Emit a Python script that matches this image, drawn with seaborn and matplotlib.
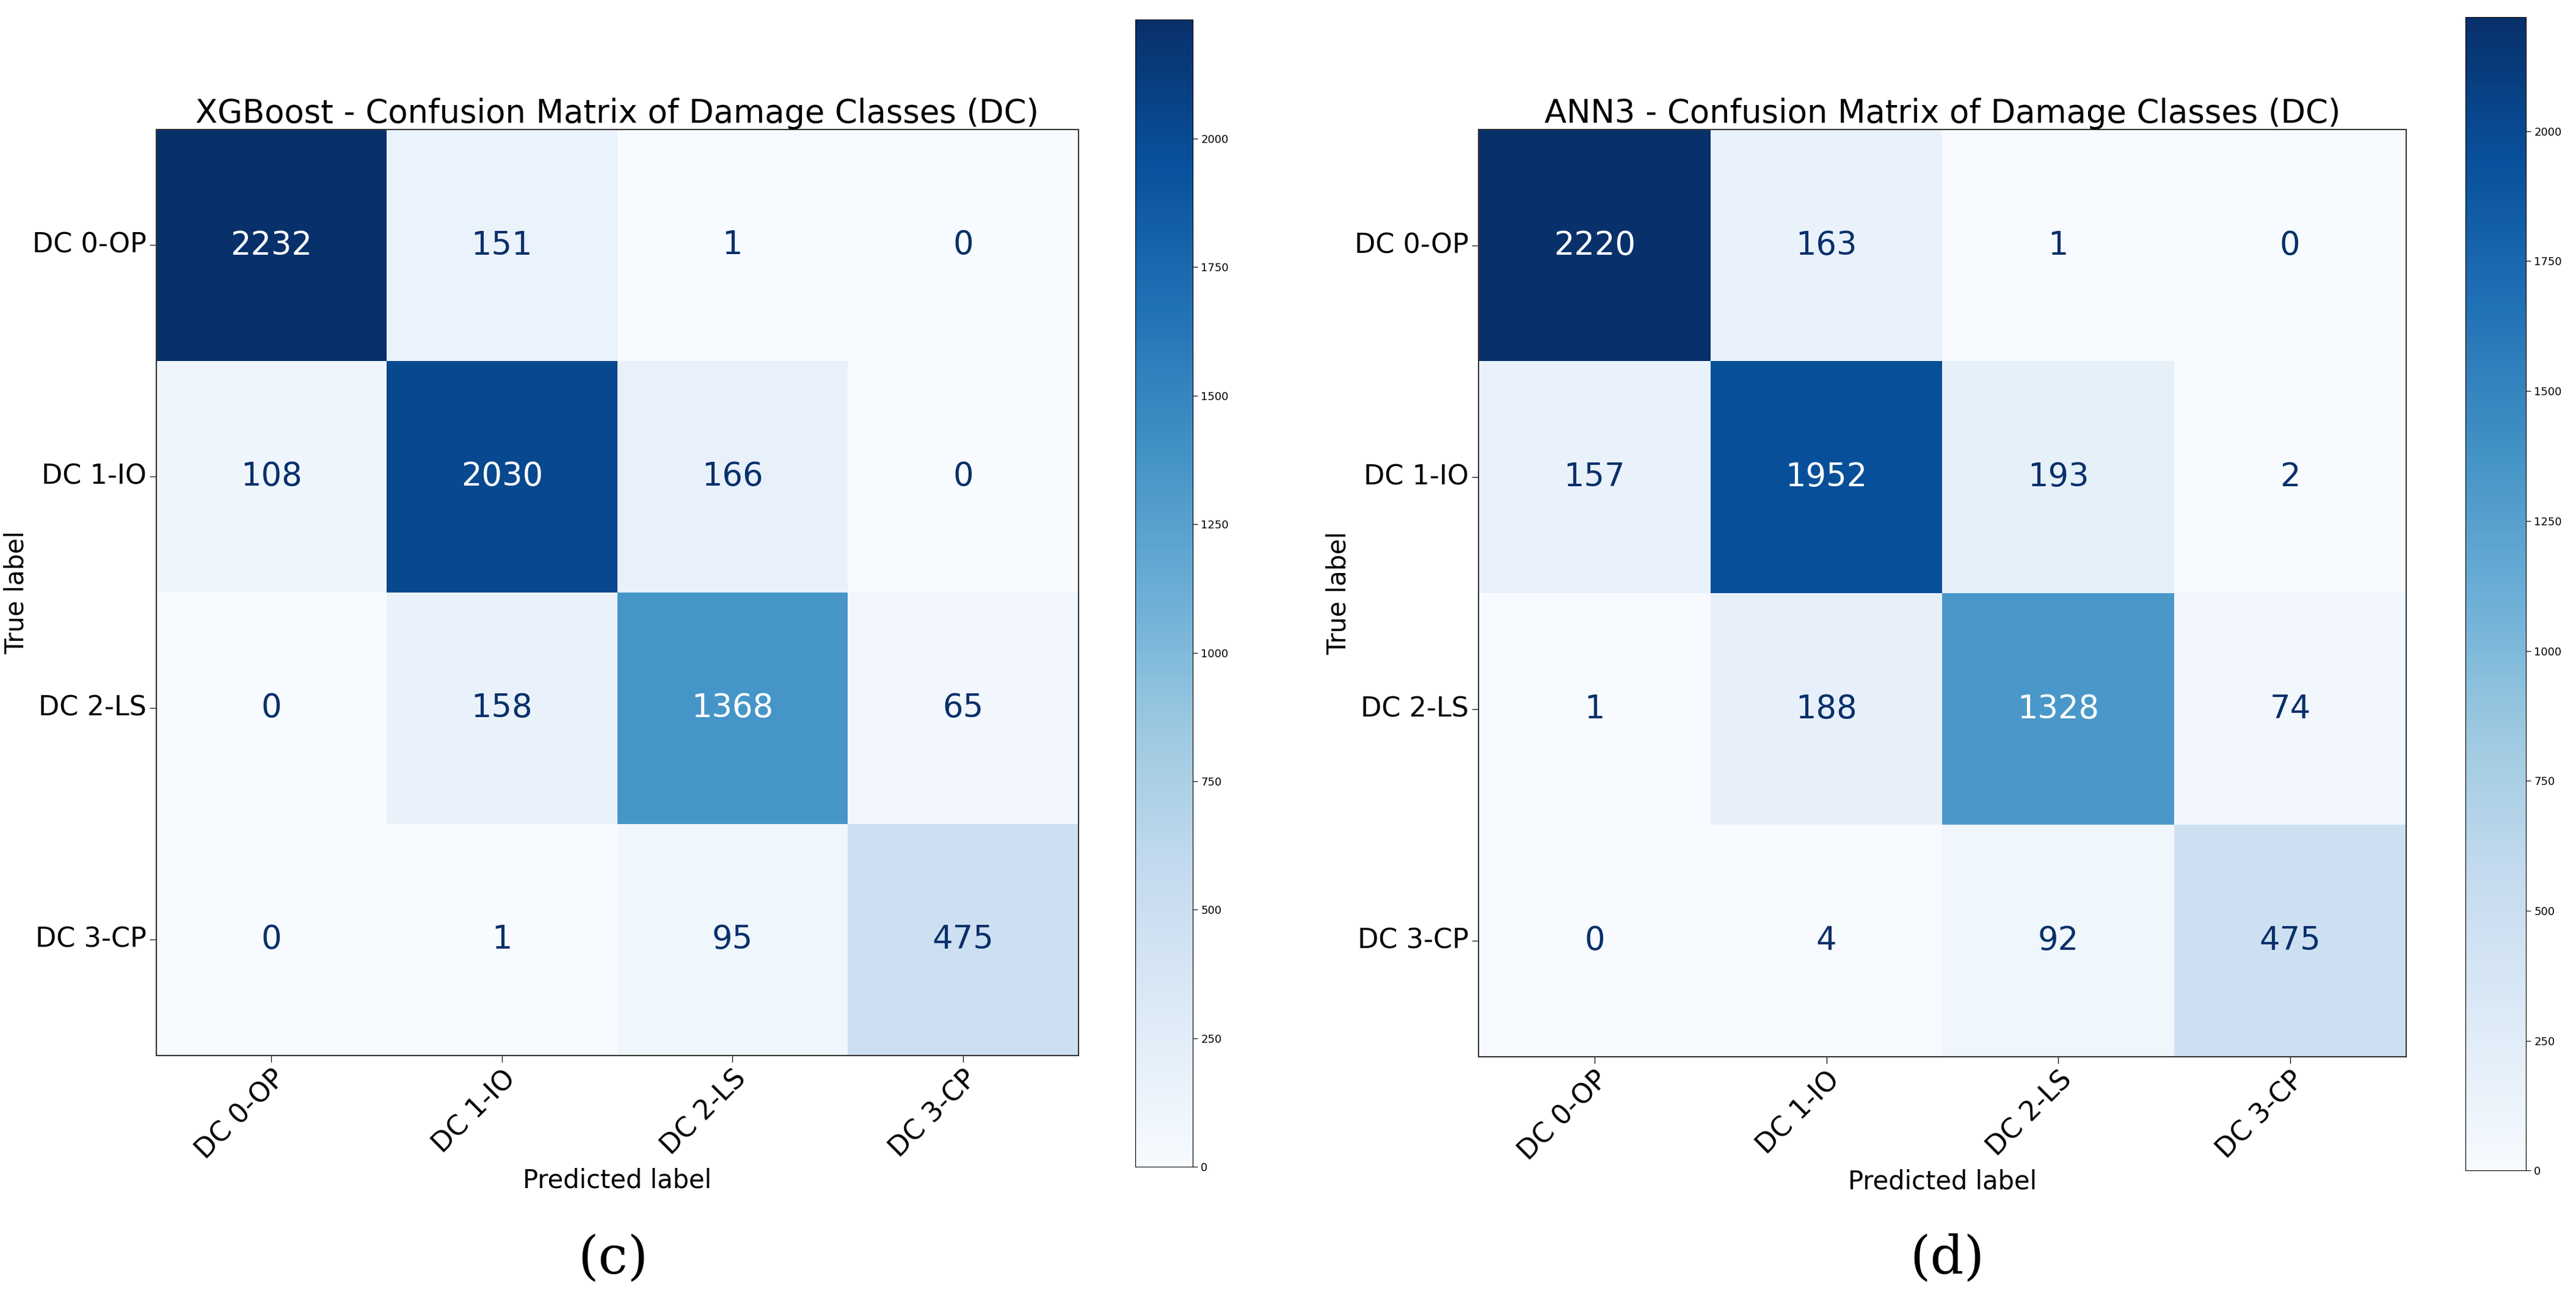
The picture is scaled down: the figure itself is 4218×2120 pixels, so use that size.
import numpy as np
import matplotlib.pyplot as plt
import seaborn as sns
import matplotlib.colors as mcolors

labels = ["DC 0-OP", "DC 1-IO", "DC 2-LS", "DC 3-CP"]
xgb_cm = [[2232, 151, 1, 0],
          [108, 2030, 166, 0],
          [0, 158, 1368, 65],
          [0, 1, 95, 475]]
ann_cm = [[2220, 163, 1, 0],
          [157, 1952, 193, 2],
          [1, 188, 1328, 74],
          [0, 4, 92, 475]]
titles = ["XGBoost - Confusion Matrix of Damage Classes (DC)",
          "ANN3 - Confusion Matrix of Damage Classes (DC)"]
panel_tags = ["(c)", "(d)"]
cbar_ticks = [0, 250, 500, 750, 1000, 1250, 1500, 1750, 2000]

fig = plt.figure(figsize=(42.18, 21.2), dpi=100)
layout = [
    ([0.0606, 0.185, 0.358, 0.715], [0.4407, 0.099, 0.0223, 0.886], 0.238),
    ([0.574, 0.184, 0.360, 0.716], [0.957, 0.096, 0.0236, 0.891], 0.756),
]
cmap = plt.get_cmap("Blues")

for cm, title, tag, (ax_pos, cb_pos, tag_x) in zip([xgb_cm, ann_cm], titles, panel_tags, layout):
    cm = np.array(cm)
    ax = fig.add_axes(ax_pos)
    cax = fig.add_axes(cb_pos)
    sns.heatmap(cm, ax=ax, cbar_ax=cax, cmap="Blues", vmin=cm.min(), vmax=cm.max(),
                annot=False, square=False, xticklabels=labels, yticklabels=labels)
    thresh = (cm.max() + cm.min()) / 2
    for i in range(cm.shape[0]):
        for j in range(cm.shape[1]):
            col = "white" if cm[i, j] > thresh else cmap(1.0)
            ax.text(j + 0.5, i + 0.5, str(cm[i, j]), ha="center", va="center",
                    fontsize=38, color=col)
    for s in ax.spines.values():
        s.set_visible(True)
        s.set_color("#333333")
        s.set_linewidth(1.5)
    ax.set_title(title, fontsize=38)
    ax.set_xlabel("Predicted label", fontsize=30)
    ax.set_ylabel("True label", fontsize=30)
    ax.tick_params(axis="both", labelsize=32, length=8)
    plt.setp(ax.get_xticklabels(), rotation=45, ha="right", rotation_mode="anchor")
    plt.setp(ax.get_yticklabels(), rotation=0)
    cax.set_yticks(cbar_ticks)
    cax.tick_params(labelsize=13, length=6)
    for s in cax.spines.values():
        s.set_visible(True)
    fig.text(tag_x, 0.028, tag, fontsize=62, family="DejaVu Serif", ha="center", va="center")

fig.savefig("out.png", dpi=100)
